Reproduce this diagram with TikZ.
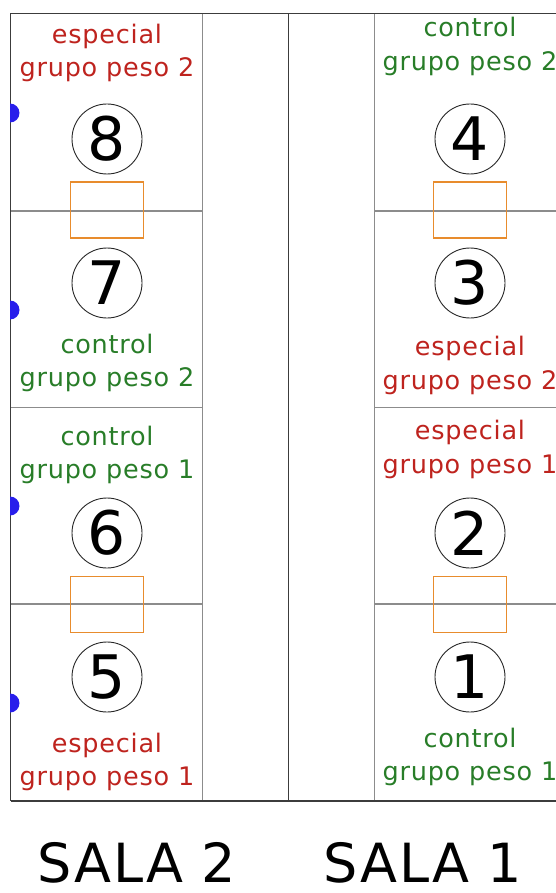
\documentclass[tikz,border=0pt]{standalone}
\usepackage{fontspec}
\setmainfont{DejaVu Sans}
\newfontfamily\labfont[LetterSpace=3]{DejaVu Sans}
\definecolor{wallc}{RGB}{60,60,60}
\definecolor{partc}{RGB}{140,140,140}
\definecolor{redc}{RGB}{190,35,30}
\definecolor{greenc}{RGB}{40,125,40}
\definecolor{orangec}{RGB}{232,140,45}
\definecolor{bluec}{RGB}{40,30,235}
\tikzset{
  wall/.style={draw=wallc, line width=1.8pt},
  part/.style={draw=partc, line width=1.4pt},
  seat/.style={circle, draw=black!85, line width=0.9pt, minimum size=70pt, inner sep=0pt, font=\fontsize{60}{60}\selectfont},
  tbl/.style={draw=orangec, line width=1.4pt, minimum width=73pt, minimum height=56pt, inner sep=0pt},
  esp/.style={text=redc, anchor=base, inner sep=0pt, font=\labfont\fontsize{25.5}{30}\selectfont},
  ctl/.style={text=greenc, anchor=base, inner sep=0pt, font=\labfont\fontsize{25.5}{30}\selectfont},
  sala/.style={anchor=base, inner sep=0pt, font=\labfont\fontsize{54}{54}\selectfont},
  dot/.style={fill=bluec},
}
\begin{document}
\begin{tikzpicture}[x=1pt,y=-1pt]
\useasboundingbox (0,0) rectangle (556,893);
\begin{scope}
\clip (0,0) rectangle (556,893);
% partitions
\draw[part] (202.5,13.5) -- (202.5,801);
\draw[part] (374.5,13.5) -- (374.5,801);
\foreach \yy in {211,407.5,604} {
  \draw[part] (10.5,\yy) -- (202.5,\yy);
  \draw[part] (374.5,\yy) -- (560,\yy);
}
% walls
\draw[wall] (10.5,13.5) -- (560,13.5);
\draw[wall] (10.5,801) -- (560,801);
\draw[wall] (10.5,13.5) -- (10.5,801);
\draw[wall] (288.5,13.5) -- (288.5,801);
% tables
\node[tbl] (t87) at (107,210) {};
\node[tbl] (t65) at (107,604.5) {};
\node[tbl] (t43) at (470,210) {};
\node[tbl] (t21) at (470,604.5) {};
% seats
\node[seat] (s8) at (107,139) {8};
\node[seat] (s7) at (107,283) {7};
\node[seat] (s6) at (107,533) {6};
\node[seat] (s5) at (107,677) {5};
\node[seat] (s4) at (470,139) {4};
\node[seat] (s3) at (470,283) {3};
\node[seat] (s2) at (470,533) {2};
\node[seat] (s1) at (470,677) {1};
% labels left
\node[esp] (l8a) at (107,44) {especial};
\node[esp] (l8b) at (107,77) {grupo peso 2};
\node[ctl] (l7a) at (107,353) {control};
\node[ctl] (l7b) at (107,386) {grupo peso 2};
\node[ctl] (l6a) at (107,445) {control};
\node[ctl] (l6b) at (107,478) {grupo peso 1};
\node[esp] (l5a) at (107,752) {especial};
\node[esp] (l5b) at (107,785) {grupo peso 1};
% labels right
\node[ctl] (l4a) at (470,37) {control};
\node[ctl] (l4b) at (470,71) {grupo peso 2};
\node[esp] (l3a) at (470,355) {especial};
\node[esp] (l3b) at (470,389) {grupo peso 2};
\node[esp] (l2a) at (470,439) {especial};
\node[esp] (l2b) at (470,473) {grupo peso 1};
\node[ctl] (l1a) at (470,747) {control};
\node[ctl] (l1b) at (470,780) {grupo peso 1};
% blue dots
\begin{scope}
\clip (10,0) rectangle (40,893);
\foreach \yy in {113,310,506,703} \fill[dot] (10,\yy) circle (9.5pt);
\end{scope}
% room names
\node[sala] (sala2) at (137,882) {SALA 2};
\node[sala] (sala1) at (423,882) {SALA 1};
\end{scope}
\end{tikzpicture}
\end{document}
